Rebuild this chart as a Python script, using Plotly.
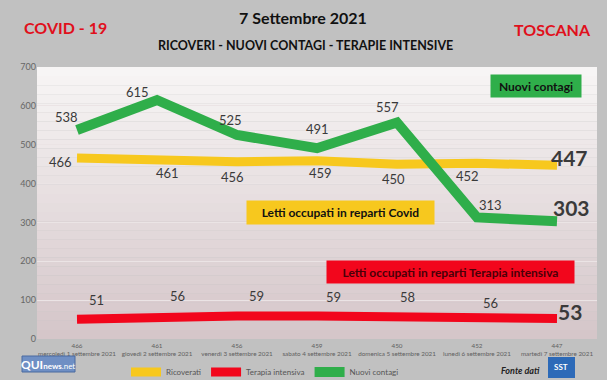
import plotly.graph_objects as go

dates = ["mercoledì 1 settembre 2021", "giovedì 2 settembre 2021", "venerdì 3 settembre 2021",
         "sabato 4 settembre 2021", "domenica 5 settembre 2021", "lunedì 6 settembre 2021",
         "martedì 7 settembre 2021"]
ricoverati = [466, 461, 456, 459, 450, 452, 447]
terapia = [51, 56, 59, 59, 58, 56, 53]
contagi = [538, 615, 525, 491, 557, 313, 303]
y_ticks = [0, 100, 200, 300, 400, 500, 600, 700]

xs = list(range(len(dates)))
ticktext = [f"{r}<br>{d}" for r, d in zip(ricoverati, dates)]

FONT = "Lato"
YEL = "#f7c81e"
RED = "#f2061c"
GRN = "#2fae4a"
LBL = "#3a3a3a"

fig = go.Figure()
fig.add_trace(go.Scatter(x=xs, y=ricoverati, mode="lines", name="Ricoverati",
                         line=dict(color=YEL, width=9)))
fig.add_trace(go.Scatter(x=xs, y=terapia, mode="lines", name="Terapia intensiva",
                         line=dict(color=RED, width=9)))
fig.add_trace(go.Scatter(x=xs, y=contagi, mode="lines", name="Nuovi contagi",
                         line=dict(color=GRN, width=10)))

# pixel -> paper helpers (plot: x 37..597, y 67..339)
def px(x):
    return (x - 37) / 560.0
def py(y):
    return 1 - (y - 67) / 272.0

# gradient background bands for plot area
n = 30
top = (247, 245, 245)
bot = (213, 198, 201)
shapes = []
for i in range(n):
    t = i / (n - 1)
    c = tuple(int(round(top[k] + (bot[k] - top[k]) * t)) for k in range(3))
    shapes.append(dict(type="rect", xref="x domain", yref="y domain",
                       x0=0, x1=1, y0=1 - (i + 1) / n, y1=1 - i / n,
                       fillcolor=f"rgb{c}", line=dict(width=0), layer="below"))
# QUInews logo
shapes.append(dict(type="rect", xref="paper", yref="paper", x0=px(22), x1=px(75),
                   y0=py(372), y1=py(356), fillcolor="#6f8fc4", line=dict(color="#4a6aa0", width=1)))
# Fonte dati logo
shapes.append(dict(type="rect", xref="paper", yref="paper", x0=px(548), x1=px(575),
                   y0=py(378), y1=py(357), fillcolor="#2d6ab8", line=dict(width=0)))

ann = []
def lab(x, y, text, dx, dy, size=13, bold=False):
    ann.append(dict(x=x, y=y, xref="x", yref="y", text=f"<b>{text}</b>" if bold else str(text),
                    showarrow=False, xshift=dx, yshift=dy, xanchor="center", yanchor="middle",
                    font=dict(family=FONT, size=size, color=LBL)))

g_off = [(-11, 13), (-20, 8), (-7, 15), (0, 19), (-10, 16), (13, 12), (14, 14)]
y_off = [(-17, -4), (10, -13), (-5, -15), (3, -12), (-4, -15), (-10, -13), (12, 8)]
r_off = [(19, 19), (20, 21), (19, 20), (16, 19), (10, 19), (13, 14), (13, 7)]
last = len(xs) - 1
for i in xs:
    big = i == last
    lab(i, contagi[i], contagi[i], *g_off[i], size=21 if big else 13, bold=big)
    lab(i, ricoverati[i], ricoverati[i], *y_off[i], size=21 if big else 13, bold=big)
    lab(i, terapia[i], terapia[i], *r_off[i], size=21 if big else 13, bold=big)

def box(xp, yp, text, w, h, bg, fc):
    ann.append(dict(x=xp, y=yp, xref="paper", yref="paper", xanchor="left", yanchor="top",
                    text=f"<b>{text}</b>", showarrow=False, width=w, height=h, bgcolor=bg,
                    align="center", valign="middle", borderpad=0,
                    font=dict(family=FONT, size=12, color=fc)))

box(px(490), py(74), "Nuovi contagi", 90, 22, GRN, "#111111")
box(px(246), py(200), "Letti occupati in reparti Covid", 187, 23, YEL, "#111111")
box(px(326), py(260), "Letti occupati in reparti Terapia intensiva", 247, 22, RED, "#4a0008")

def txt(x, y, text, size, color):
    ann.append(dict(x=px(x), y=py(y), xref="paper", yref="paper", xanchor="center", yanchor="middle",
                    text=text, showarrow=False, font=dict(family=FONT, size=size, color=color)))

# titles
txt(65, 27, "<b>COVID - 19</b>", 16, "#e0101c")
txt(303, 18, "<b>7 Settembre 2021</b>", 16, "#111111")
txt(305, 45, "<b>RICOVERI - NUOVI CONTAGI - TERAPIE INTENSIVE</b>", 12.5, "#111111")
txt(552, 29, "<b>TOSCANA</b>", 16, "#e0101c")
# logos text
txt(48, 364, "<b>QUI</b><span style='font-size:8px'><b>news</b>.net</span>", 12, "white")
txt(520, 370, "<b><i>Fonte dati</i></b>", 9, "#222222")
txt(561, 367, "<b>SST</b>", 8, "white")

fig.update_layout(
    width=607, height=380,
    margin=dict(l=37, r=10, t=67, b=41, autoexpand=False),
    paper_bgcolor="#c1c1c1",
    plot_bgcolor="rgba(0,0,0,0)",
    shapes=shapes,
    annotations=ann,
    showlegend=True,
    legend=dict(orientation="h", x=px(265), y=py(372), xanchor="center", yanchor="middle",
                font=dict(family=FONT, size=8, color="#555555"), bgcolor="rgba(0,0,0,0)",
                itemwidth=30, tracegroupgap=0),
    xaxis=dict(tickmode="array", tickvals=xs, ticktext=ticktext, range=[-0.5, 6.5],
               showgrid=False, zeroline=False, showline=False, ticks="", tickangle=0,
               automargin=False, ticklabelstandoff=2,
               tickfont=dict(family=FONT, size=6.3, color="#606060")),
    yaxis=dict(range=[0, 700], tickvals=y_ticks, showgrid=True, gridcolor="#ebe4e5", gridwidth=1,
               zeroline=False, showline=False, ticks="", automargin=False,
               tickfont=dict(family=FONT, size=9, color="#666666")),
)

fig.write_html("out.html", config={"displayModeBar": False},
               post_script="document.body.style.margin='0';document.body.style.overflow='hidden';")
